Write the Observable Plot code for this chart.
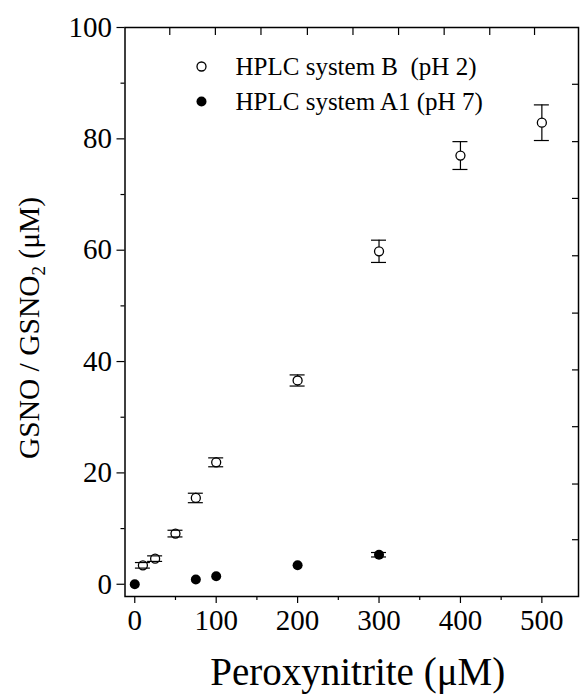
<!DOCTYPE html>
<html><head><meta charset="utf-8">
<script src="https://cdn.jsdelivr.net/npm/d3@7"></script>
<script src="https://cdn.jsdelivr.net/npm/@observablehq/plot@0.6"></script>
<style>
html,body{margin:0;padding:0;background:#fff;}
svg text{white-space:pre;}
</style></head><body><div id="chart"></div>
<script>
// Series B (open circles, HPLC system B pH 2)
const xB = [10, 25, 50, 75, 100, 200, 300, 400, 500];
const yB = [3.4, 4.6, 9.1, 15.5, 21.9, 36.6, 59.8, 77.0, 82.9];
const eB = [0.5, 0.5, 0.6, 0.85, 0.8, 1.0, 2.0, 2.5, 3.2];
// Series A1 (filled circles, HPLC system A1 pH 7)
const xA = [0, 75, 100, 200, 300];
const yA = [0, 0.85, 1.45, 3.4, 5.3];
const eA = [0, 0, 0, 0, 0.4];

const legendLabels = ["HPLC system B  (pH 2)", "HPLC system A1 (pH 7)"];
const xTitle = "Peroxynitrite (\u03bcM)";
const yTitle = "GSNO / GSNO2 (\u03bcM)";

const xTicks = [0, 100, 200, 300, 400, 500];
const xMinor = [50, 150, 250, 350, 450];
const yTicks = [0, 20, 40, 60, 80, 100];
const yMinor = [10, 30, 50, 70, 90];
const topTicks = [43, 99, 155, 212, 268, 324, 380, 436, 491];
const rightTicks = [8, 18, 28.3, 38.5, 48.7, 59, 69.3, 79.5, 89.8];

const dataB = xB.map((x, i) => ({x, y: yB[i], lo: yB[i] - eB[i], hi: yB[i] + eB[i]}));
const dataA = xA.map((x, i) => ({x, y: yA[i], lo: yA[i] - eA[i], hi: yA[i] + eA[i], e: eA[i]}));
const dataAe = dataA.filter(d => d.e > 0);

const capInset = -7.5;
const plot = Plot.plot({
  width: 581, height: 698,
  marginLeft: 124.5, marginRight: 3, marginTop: 27, marginBottom: 102,
  style: {fontFamily: "'Liberation Serif', 'Times New Roman', serif", background: "#fff", color: "#000"},
  x: {domain: [-12, 545]},
  y: {domain: [-2.2, 100]},
  marks: [
    Plot.frame({stroke: "#000", strokeWidth: 1.5}),
    Plot.axisX({anchor: "bottom", ticks: xTicks, tickSize: 7, tickPadding: 6, fontSize: 29, label: null, strokeWidth: 1.2}),
    Plot.axisX({anchor: "bottom", ticks: xMinor, tickSize: 4, tickFormat: () => "", label: null, strokeWidth: 1.2}),
    Plot.axisX({anchor: "top", ticks: topTicks, tickSize: 7, dy: 7, tickFormat: () => "", label: null, strokeWidth: 1.2}),
    Plot.axisY({anchor: "left", ticks: yTicks, tickSize: 8, tickPadding: 5, fontSize: 29, label: null, strokeWidth: 1.2}),
    Plot.axisY({anchor: "left", ticks: yMinor, tickSize: 4, tickFormat: () => "", label: null, strokeWidth: 1.2}),
    Plot.axisY({anchor: "right", ticks: rightTicks, tickSize: 7, dx: -7, tickFormat: () => "", label: null, strokeWidth: 1.2}),

    // series B error bars + circles
    Plot.ruleX(dataB, {x: "x", y1: "lo", y2: "hi", stroke: "#000", strokeWidth: 1.2}),
    Plot.dot(dataB, {x: "x", y: "y", r: 4.5, stroke: "#000", fill: "#fff", strokeWidth: 1.3}),
    Plot.ruleY(dataB, {y: "hi", x1: "x", x2: "x", insetLeft: capInset, insetRight: capInset, stroke: "#000", strokeWidth: 1.2}),
    Plot.ruleY(dataB, {y: "lo", x1: "x", x2: "x", insetLeft: capInset, insetRight: capInset, stroke: "#000", strokeWidth: 1.2}),

    // series A1
    Plot.ruleX(dataAe, {x: "x", y1: "lo", y2: "hi", stroke: "#000", strokeWidth: 1.2}),
    Plot.ruleY(dataAe, {y: "hi", x1: "x", x2: "x", insetLeft: capInset, insetRight: capInset, stroke: "#000", strokeWidth: 1.2}),
    Plot.ruleY(dataAe, {y: "lo", x1: "x", x2: "x", insetLeft: capInset, insetRight: capInset, stroke: "#000", strokeWidth: 1.2}),
    Plot.dot(dataA, {x: "x", y: "y", r: 5, fill: "#000", stroke: "none"}),

    // legend
    Plot.dot([legendLabels[0]], {frameAnchor: "top-left", dx: 76.5, dy: 39, r: 4.5, stroke: "#000", fill: "#fff", strokeWidth: 1.3}),
    Plot.dot([legendLabels[1]], {frameAnchor: "top-left", dx: 76.5, dy: 74, r: 5, fill: "#000", stroke: "none"}),
    Plot.text([legendLabels[0]], {text: d => d, frameAnchor: "top-left", dx: 110.5, dy: 39.5, textAnchor: "start", lineAnchor: "middle", fontSize: 25, fill: "#000"}),
    Plot.text([legendLabels[1]], {text: d => d, frameAnchor: "top-left", dx: 110.5, dy: 74.5, textAnchor: "start", lineAnchor: "middle", fontSize: 25, fill: "#000"}),

    // axis titles
    Plot.text([xTitle], {text: d => d, frameAnchor: "bottom", dx: 6, dy: 76, textAnchor: "middle", lineAnchor: "middle", fontSize: 39, fill: "#000"}),
    Plot.text([yTitle], {text: d => d, frameAnchor: "left", rotate: -90, dx: -95.5, dy: 16, textAnchor: "middle", lineAnchor: "middle", fontSize: 29.5, fill: "#000"})
  ]
});

// subscript the "2" in GSNO2
d3.select(plot).selectAll("text").filter(function() { return this.textContent === yTitle; }).each(function() {
  const t = d3.select(this);
  t.text(null);
  t.append("tspan").text("GSNO / GSNO");
  t.append("tspan").attr("font-size", "19px").attr("dy", "6").text("2");
  t.append("tspan").attr("dy", "-6").text(" (\u03bcM)");
});

document.getElementById("chart").appendChild(plot);
</script>
</body></html>
